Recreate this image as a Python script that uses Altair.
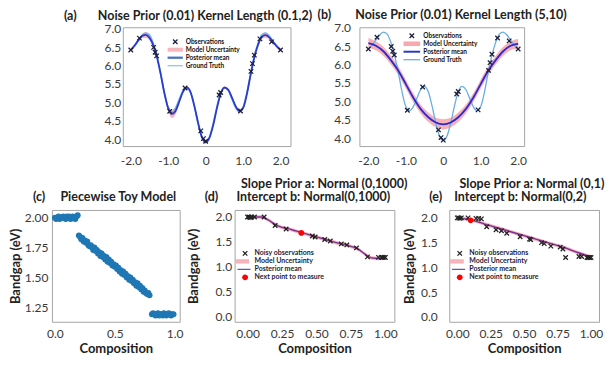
import altair as alt
import pandas as pd

FONT = "Lato"
SP = "\u00a0"
ZW = "\u200b"

# ---------------- panels (a) and (b) ----------------
grid_x = [-2.0, -1.9, -1.8, -1.7, -1.6, -1.5, -1.4, -1.3, -1.2, -1.1, -1.0,
          -0.9, -0.8, -0.7, -0.6, -0.5, -0.4, -0.3, -0.2, -0.1, 0.0,
          0.1, 0.2, 0.3, 0.4, 0.5, 0.6, 0.7, 0.8, 0.9, 1.0,
          1.1, 1.2, 1.3, 1.4, 1.5, 1.6, 1.7, 1.8, 1.9, 2.0]
truth_y = [6.42, 6.52, 6.66, 6.80, 6.88, 6.83, 6.60, 6.25, 5.78, 5.25, 4.86,
           4.75, 4.86, 5.10, 5.33, 5.41, 5.26, 4.88, 4.42, 4.06, 3.93,
           4.06, 4.42, 4.88, 5.26, 5.41, 5.33, 5.10, 4.86, 4.75, 4.86,
           5.25, 5.78, 6.25, 6.60, 6.83, 6.88, 6.80, 6.66, 6.52, 6.42]
a_mean_y = [6.42, 6.54, 6.68, 6.80, 6.83, 6.75, 6.55, 6.22, 5.76, 5.24, 4.84,
            4.69, 4.78, 5.04, 5.30, 5.40, 5.27, 4.90, 4.44, 4.06, 3.92,
            4.04, 4.38, 4.84, 5.23, 5.40, 5.35, 5.14, 4.90, 4.77, 4.85,
            5.22, 5.74, 6.22, 6.56, 6.78, 6.82, 6.76, 6.64, 6.52, 6.42]
a_unc = [0.04, 0.04, 0.04, 0.06, 0.08, 0.07, 0.05, 0.04, 0.04, 0.04, 0.08,
         0.11, 0.10, 0.06, 0.04, 0.04, 0.04, 0.04, 0.04, 0.03, 0.03,
         0.03, 0.04, 0.04, 0.04, 0.04, 0.04, 0.04, 0.05, 0.05, 0.05,
         0.04, 0.04, 0.04, 0.05, 0.06, 0.07, 0.05, 0.04, 0.04, 0.04]

b_x = [-2.0, -1.8, -1.6, -1.4, -1.2, -1.0, -0.8, -0.6, -0.4, -0.2, 0.0,
       0.2, 0.4, 0.6, 0.8, 1.0, 1.2, 1.4, 1.6, 1.8, 2.0]
b_mean_y = [6.58, 6.51, 6.36, 6.12, 5.83, 5.47, 5.10, 4.79, 4.57, 4.43, 4.38,
            4.43, 4.57, 4.79, 5.10, 5.47, 5.83, 6.12, 6.36, 6.51, 6.56]
b_unc = [0.13, 0.12, 0.12, 0.12, 0.12, 0.12, 0.12, 0.12, 0.13, 0.13, 0.14,
         0.13, 0.13, 0.12, 0.12, 0.12, 0.12, 0.12, 0.12, 0.12, 0.13]

obs_x = [-2.0, -1.77, -1.39, -1.35, -1.31, -0.96, -0.55, -0.13, -0.06, 0.0,
         0.36, 0.40, 0.93, 1.21, 1.25, 1.30, 1.45, 1.76, 2.0]
obs_y = [6.42, 6.74, 6.49, 6.36, 6.26, 4.76, 5.39, 4.23, 4.02, 3.95,
         5.20, 5.27, 4.77, 5.84, 6.05, 6.28, 6.72, 6.64, 6.42]

ab_series = ["Observations", "Model Uncertainty", "Posterior mean", "Ground Truth"]
ab_x_ticks = [-2, -1, 0, 1, 2]
ab_y_ticks = [4.0, 4.5, 5.0, 5.5, 6.0, 6.5, 7.0]

# ---------------- panel (c) ----------------
c_x1 = [0.00, 0.01, 0.02, 0.03, 0.04, 0.05, 0.06, 0.07, 0.08, 0.09,
        0.10, 0.11, 0.12, 0.13, 0.14, 0.15, 0.16, 0.17, 0.18, 0.19]
c_y1 = [2.00, 1.99, 2.00, 2.01, 1.99, 2.00, 2.00, 2.01, 2.00, 1.99,
        2.01, 2.00, 2.01, 1.99, 2.00, 2.01, 2.00, 1.99, 2.01, 2.02]
c_x2 = [0.20, 0.21, 0.22, 0.23, 0.24, 0.25, 0.26, 0.27, 0.28, 0.29,
        0.30, 0.31, 0.32, 0.33, 0.34, 0.35, 0.36, 0.37, 0.38, 0.39,
        0.40, 0.41, 0.42, 0.43, 0.44, 0.45, 0.46, 0.47, 0.48, 0.49,
        0.50, 0.51, 0.52, 0.53, 0.54, 0.55, 0.56, 0.57, 0.58, 0.59,
        0.60, 0.61, 0.62, 0.63, 0.64, 0.65, 0.66, 0.67, 0.68, 0.69,
        0.70, 0.71, 0.72, 0.73, 0.74, 0.75, 0.76, 0.77, 0.78, 0.79]
c_y2 = [1.85, 1.84, 1.82, 1.83, 1.80, 1.81, 1.79, 1.80, 1.77, 1.76,
        1.77, 1.75, 1.73, 1.75, 1.72, 1.73, 1.70, 1.71, 1.68, 1.70,
        1.67, 1.68, 1.65, 1.67, 1.63, 1.65, 1.62, 1.63, 1.60, 1.61,
        1.59, 1.60, 1.57, 1.58, 1.55, 1.56, 1.53, 1.55, 1.52, 1.53,
        1.50, 1.51, 1.48, 1.50, 1.47, 1.48, 1.45, 1.46, 1.43, 1.45,
        1.42, 1.43, 1.40, 1.41, 1.38, 1.39, 1.37, 1.36, 1.37, 1.35]
c_x3 = [0.81, 0.82, 0.83, 0.84, 0.85, 0.86, 0.87, 0.88, 0.89, 0.90,
        0.91, 0.92, 0.93, 0.94, 0.95, 0.96, 0.97, 0.98, 0.99]
c_y3 = [1.19, 1.20, 1.19, 1.18, 1.19, 1.20, 1.18, 1.19, 1.19, 1.18,
        1.20, 1.19, 1.18, 1.19, 1.20, 1.19, 1.18, 1.19, 1.19]

# ---------------- panels (d) and (e) ----------------
d_x = [0.0, 0.05, 0.10, 0.15, 0.20, 0.25, 0.30, 0.35, 0.40, 0.45, 0.50,
       0.55, 0.60, 0.65, 0.70, 0.75, 0.80, 0.85, 0.90, 0.95, 1.0]
d_mean = [2.00, 2.00, 2.00, 1.94, 1.85, 1.79, 1.76, 1.72, 1.68, 1.64, 1.60,
          1.56, 1.52, 1.48, 1.45, 1.41, 1.36, 1.26, 1.18, 1.17, 1.19]
d_obs_x = [0.0, 0.01, 0.02, 0.03, 0.05, 0.12, 0.20, 0.28, 0.47, 0.49, 0.56,
           0.60, 0.68, 0.72, 0.79, 0.87, 0.95, 0.97, 0.98, 0.99, 1.0]
d_obs_y = [2.00, 2.00, 1.99, 2.00, 2.00, 2.00, 1.83, 1.76, 1.62, 1.60, 1.55,
           1.52, 1.46, 1.44, 1.38, 1.20, 1.19, 1.19, 1.19, 1.19, 1.19]
d_next_x = [0.39]
d_next_y = [1.68]

e_x = [0.0, 0.1, 0.2, 0.3, 0.4, 0.5, 0.6, 0.7, 0.8, 0.9, 1.0]
e_mean = [2.00, 1.96, 1.88, 1.80, 1.72, 1.64, 1.56, 1.48, 1.40, 1.30, 1.21]
e_obs_x = [0.0, 0.01, 0.02, 0.03, 0.08, 0.14, 0.16, 0.18, 0.22, 0.29, 0.33,
           0.37, 0.47, 0.54, 0.55, 0.63, 0.65, 0.70, 0.77, 0.79, 0.81, 0.91,
           0.93, 0.97, 0.98, 0.99, 1.0]
e_obs_y = [2.00, 2.00, 1.99, 2.00, 2.00, 1.99, 1.99, 1.98, 1.82, 1.76, 1.74,
           1.69, 1.62, 1.57, 1.56, 1.50, 1.48, 1.43, 1.41, 1.37, 1.20, 1.22,
           1.22, 1.20, 1.20, 1.20, 1.20]
e_next_x = [0.10]
e_next_y = [1.95]

de_series = ["Noisy observations", "Model Uncertainty", "Posterior mean",
             "Next point to measure"]
de_unc = 0.035

# ---------------- symbols ----------------
X_PATH = "M-0.6,-0.4L-0.4,-0.6L0.6,0.4L0.4,0.6ZM0.6,-0.4L-0.4,0.6L-0.6,0.4L0.4,-0.6Z"
def rect_path(x0, x1, h):
    return f"M{x0},{-h}L{x1},{-h}L{x1},{h}L{x0},{h}Z"
CIRCLE_PATH = "M0.65,0A0.65,0.65,0,1,1,-0.65,0A0.65,0.65,0,1,1,0.65,0Z"


def legend(lx, ly, loff, fs, color):
    return alt.Legend(title=None, orient="none", legendX=lx, legendY=ly,
                      direction="vertical", symbolSize=81, symbolStrokeWidth=0,
                      symbolOpacity=1, labelOffset=loff, labelFontSize=fs,
                      labelFont=FONT, labelFontWeight="bold", labelColor=color,
                      rowPadding=0, padding=0)


def scales(xd, yd):
    return (alt.Scale(domain=xd, nice=False, zero=False),
            alt.Scale(domain=yd, nice=False, zero=False))


def title(text, dx, offset):
    return alt.TitleParams(text=text, anchor="start", frame="group", dx=dx,
                           offset=offset, fontSize=12.5, font=FONT,
                           fontWeight="bold", lineHeight=13.5)


X_EXPR = "datum.value == 0 ? '0' : (datum.value < 0 ? '-' : '') + format(abs(datum.value), '.1f')"


def gp_panel(ttl, dx, mean_x, mean_y, unc, tr_x, tr_y, xd, yd, w, h,
             ypad, leg, colors, shapes, band_col, mean_col, truth_col,
             mean_w, truth_w):
    xs, ys = scales(xd, yd)
    xax = alt.Axis(values=ab_x_ticks, labelExpr=X_EXPR, labelPadding=9, title=None)
    yax = alt.Axis(values=ab_y_ticks, format=".1f", labelPadding=ypad, title=None)
    X = alt.X("x:Q", scale=xs, axis=xax)
    band_df = pd.DataFrame({"x": mean_x,
                            "lo": [m - u for m, u in zip(mean_y, unc)],
                            "hi": [m + u for m, u in zip(mean_y, unc)]})
    mean_df = pd.DataFrame({"x": mean_x, "y": mean_y})
    tr_df = pd.DataFrame({"x": tr_x, "y": tr_y})
    ob_df = pd.DataFrame({"x": obs_x, "y": obs_y, "series": "Observations"})
    band = alt.Chart(band_df).mark_area(color=band_col, opacity=0.85,
                                        interpolate="monotone").encode(
        x=X, y=alt.Y("lo:Q", scale=ys, axis=yax), y2="hi:Q")
    truth = alt.Chart(tr_df).mark_line(color=truth_col, strokeWidth=truth_w,
                                       interpolate="monotone").encode(
        x=X, y=alt.Y("y:Q", scale=ys, axis=yax))
    mean = alt.Chart(mean_df).mark_line(color=mean_col, strokeWidth=mean_w,
                                        interpolate="monotone").encode(
        x=X, y=alt.Y("y:Q", scale=ys, axis=yax))
    pts = alt.Chart(ob_df).mark_point(filled=True, size=81, strokeWidth=0,
                                      opacity=1).encode(
        x=X, y=alt.Y("y:Q", scale=ys, axis=yax),
        color=alt.Color("series:N", scale=alt.Scale(domain=ab_series, range=colors), legend=leg),
        shape=alt.Shape("series:N", scale=alt.Scale(domain=ab_series, range=shapes), legend=leg))
    return alt.layer(band, truth, mean, pts).properties(
        width=w, height=h, title=title(ttl, dx, 0))


a_shapes = [X_PATH, rect_path(-1.7, 1.7, 0.45), rect_path(-1.7, 1.7, 0.25), rect_path(-1.7, 1.7, 0.14)]
b_shapes = [X_PATH, rect_path(-1.85, 1.85, 0.5), rect_path(-1.85, 1.85, 0.22), rect_path(-1.85, 1.85, 0.14)]

panel_a = gp_panel("(a)" + SP * 7 + "Noise Prior (0.01) Kernel Length (0.1,2)", -59,
                   grid_x, a_mean_y, a_unc, grid_x, truth_y,
                   [-2.213, 2.267], [3.82, 7.035], 168, 119, 2,
                   legend(48, 10, 6, 6.5, "#111111"),
                   ["#1e1e3c", "#f7b6bd", "#4a70c4", "#8ec2ea"], a_shapes,
                   "#f6a5ad", "#2a3bd0", "#7ab8e6", 1.8, 1.6)
panel_b = gp_panel("(b)" + SP * 8 + "Noise Prior (0.01) Kernel Length (5,10)", -42,
                   b_x, b_mean_y, b_unc, grid_x, truth_y,
                   [-2.24, 2.16], [3.79, 7.01], 165, 119, 9,
                   legend(48, 4, 7, 6.5, "#111111"),
                   ["#1e1e3c", "#f8a8ae", "#2b36c8", "#6aaee0"], b_shapes,
                   "#f7a3aa", "#2a2ad0", "#6aaee0", 1.8, 1.3)

spacer = alt.Chart(pd.DataFrame({"v": [0]})).mark_point(opacity=0).encode(
    x=alt.X("v:Q", axis=None), y=alt.Y("v:Q", axis=None)).properties(
    width=2, height=119, view=alt.ViewBackground(stroke="transparent"))

# ---------------- (c) ----------------
c_df = pd.DataFrame({"x": c_x1 + c_x2 + c_x3, "y": c_y1 + c_y2 + c_y3})
cxs, cys = scales([-0.025, 1.042], [1.128, 2.065])
panel_c = alt.Chart(c_df).mark_circle(size=36, color="#1f77b4", opacity=1).encode(
    x=alt.X("x:Q", scale=cxs, axis=alt.Axis(values=[0, 0.5, 1], format=".1f",
                                            labelPadding=7, title="Composition",
                                            titlePadding=3)),
    y=alt.Y("y:Q", scale=cys, axis=alt.Axis(values=[1.25, 1.5, 1.75, 2.0], format=".2f",
                                            labelPadding=4, title="Bandgap (eV)",
                                            titlePadding=2))
).properties(width=128, height=112,
             title=title("(c)" + SP * 5 + "Piecewise Toy Model", -19, 6))

# ---------------- (d), (e) ----------------
de_shapes = [X_PATH, rect_path(-2.2, 0.9, 0.48), rect_path(-1.7, 1.2, 0.13), CIRCLE_PATH]
de_colors = ["#222222", "#f7b3ba", "#5050a8", "#ff0000"]


def bo_panel(lines, dx, mx, my, ox, oy, nx, ny, xd, yd, w, ypad, ytpad, leg):
    xs, ys = scales(xd, yd)
    xax = alt.Axis(values=[0, 0.25, 0.5, 0.75, 1.0], format=".2f", labelPadding=7,
                   title="Composition", titlePadding=3)
    yax = alt.Axis(values=[0, 0.5, 1.0, 1.5, 2.0], format=".1f", labelPadding=ypad,
                   title="Bandgap (eV)", titlePadding=ytpad)
    X = alt.X("x:Q", scale=xs, axis=xax)
    band_df = pd.DataFrame({"x": mx, "lo": [v - de_unc for v in my],
                            "hi": [v + de_unc for v in my]})
    mean_df = pd.DataFrame({"x": mx, "y": my})
    pt_df = pd.DataFrame({"x": ox + nx, "y": oy + ny,
                          "series": ["Noisy observations"] * len(ox)
                          + ["Next point to measure"] * len(nx)})
    band = alt.Chart(band_df).mark_area(color="#f4a6b4", opacity=0.9,
                                        interpolate="monotone").encode(
        x=X, y=alt.Y("lo:Q", scale=ys, axis=yax), y2="hi:Q")
    mean = alt.Chart(mean_df).mark_line(color="#7b3294", strokeWidth=1.4,
                                        interpolate="monotone").encode(
        x=X, y=alt.Y("y:Q", scale=ys, axis=yax))
    pts = alt.Chart(pt_df).mark_point(filled=True, size=81, strokeWidth=0,
                                      opacity=1).encode(
        x=X, y=alt.Y("y:Q", scale=ys, axis=yax),
        color=alt.Color("series:N", scale=alt.Scale(domain=de_series, range=de_colors), legend=leg),
        shape=alt.Shape("series:N", scale=alt.Scale(domain=de_series, range=de_shapes), legend=leg))
    return alt.layer(band, mean, pts).properties(
        width=w, height=112, title=title(lines, dx, 6))


panel_d = bo_panel([ZW + SP * 12 + "Slope Prior a: Normal (0,1000)",
                    "(d)" + SP * 6 + "Intercept b: Normal(0,1000)"], -30,
                   d_x, d_mean, d_obs_x, d_obs_y, d_next_x, d_next_y,
                   [-0.094, 1.065], [-0.098, 2.14], 160, 3, 14,
                   legend(6, 39, 5, 7, "#1c1c3c"))
panel_e = bo_panel([ZW + SP * 10 + "Slope Prior a: Normal (0,1)",
                    "(e)" + SP * 4 + "Intercept b: Normal(0,2)"], -20,
                   e_x, e_mean, e_obs_x, e_obs_y, e_next_x, e_next_y,
                   [-0.06, 1.06], [-0.099, 2.16], 150, 12, 4,
                   legend(6, 39, 5, 7, "#1c1c3c"))

top = alt.hconcat(spacer, panel_a, panel_b, spacing=69, bounds="flush").resolve_scale(
    color="independent", shape="independent")
bottom = alt.hconcat(panel_c, panel_d, panel_e, spacing=55, bounds="flush").resolve_scale(
    color="independent", shape="independent")

chart = alt.vconcat(top, bottom, spacing=10).resolve_scale(
    color="independent", shape="independent"
).properties(padding={"top": 0, "left": 0, "right": 0, "bottom": 0}).configure_view(
    stroke="#a6a6a6", strokeWidth=1
).configure_axis(
    grid=False, domain=False, ticks=False, labelFont=FONT, labelFontSize=12,
    labelColor="#3a3a3a", titleFont=FONT, titleFontSize=13, titleFontWeight="bold",
    titleColor="#222222"
).configure_title(color="#222222")

chart.save("out.html", embed_options={"renderer": "svg", "actions": False})
